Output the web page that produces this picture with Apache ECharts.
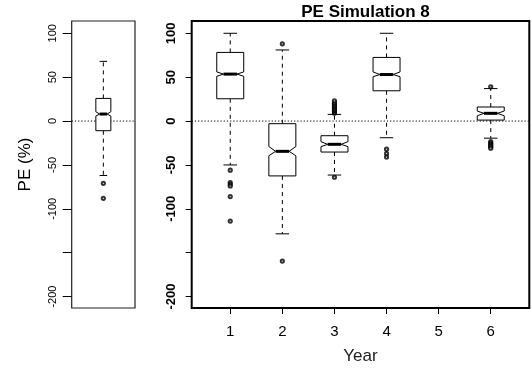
<!DOCTYPE html>
<html>
<head>
<meta charset="utf-8">
<script src="https://cdn.jsdelivr.net/npm/echarts@6/dist/echarts.min.js"></script>
<style>
  html, body { margin: 0; padding: 0; background: #fff; }
  #chart { width: 532px; height: 376px; }
</style>
</head>
<body>
<div id="chart"></div>
<script>
// Pooled prediction errors (left panel)
const allStats = { lowW: -62, q1: -11, notchLo: 5.7, med: 8, notchHi: 10.6, q3: 25.8, upW: 68 };
const allOutliers = [-71, -88];

// Per-year prediction errors (right panel)
const years = [1, 2, 3, 4, 5, 6];
const lowerWhisker = [-50, -128.5, -61.5, -19, null, -19.5];
const lowerQuartile = [25.4, -62.5, -35.3, 34.5, null, 1.1];
const notchLow = [51, -39.5, -29.2, 50.5, null, 6];
const medians = [53.5, -34.5, -26.5, 53, null, 8.8];
const notchHigh = [56, -29, -23.5, 56, null, 11.4];
const upperQuartile = [78.2, -3, -16.7, 72.5, null, 16];
const upperWhisker = [100, 81, 7.6, 100, null, 37];
const outliers = [
  [-56, -70, -72, -74, -86, -114],
  [88, -159.5],
  [9, 10.5, 12, 13.5, 15, 16.5, 18, 19.5, 21, 23, -64],
  [-32, -37, -41],
  [],
  [39, -23.5, -25, -26.5, -28, -29.5, -31]
];

// Axis settings
const yRange = [-213, 114];
const yTicks = [-200, -150, -100, -50, 0, 50, 100];
const yLabels = [-200, -100, -50, 0, 50, 100];
const xRangeRight = [0.26, 6.74];
const xRangeLeft = [0.46, 1.54];
const refLevel = 0;

const FONT = 'Liberation Sans, Arial, Helvetica, sans-serif';

function boxRenderer(boxWidth) {
  return function (params, api) {
    const x = api.value(0);
    const v = [1, 2, 3, 4, 5, 6, 7].map(i => api.value(i));
    const [lowW, q1, nLo, med, nHi, q3, upW] = v;
    const cx = api.coord([x, med])[0];
    const hw = api.size([boxWidth, 0])[0] / 2;
    const y = val => api.coord([x, val])[1];
    const L = cx - hw, R = cx + hw;
    const iL = cx - hw / 2, iR = cx + hw / 2;
    const dashed = { stroke: '#000', lineWidth: 1, lineDash: [4, 4] };
    const solid = { stroke: '#000', lineWidth: 1 };
    return {
      type: 'group',
      children: [
        { type: 'line', shape: { x1: cx, y1: y(q3), x2: cx, y2: y(upW) }, style: dashed },
        { type: 'line', shape: { x1: cx, y1: y(q1), x2: cx, y2: y(lowW) }, style: dashed },
        { type: 'line', shape: { x1: cx - hw / 2, y1: y(upW), x2: cx + hw / 2, y2: y(upW) }, style: solid },
        { type: 'line', shape: { x1: cx - hw / 2, y1: y(lowW), x2: cx + hw / 2, y2: y(lowW) }, style: solid },
        {
          type: 'polygon',
          shape: {
            points: [
              [L, y(q1)], [L, y(nLo)], [iL, y(med)], [L, y(nHi)], [L, y(q3)],
              [R, y(q3)], [R, y(nHi)], [iR, y(med)], [R, y(nLo)], [R, y(q1)]
            ]
          },
          style: { stroke: '#000', lineWidth: 1, fill: '#fff' }
        },
        { type: 'line', shape: { x1: iL, y1: y(med), x2: iR, y2: y(med) }, style: { stroke: '#000', lineWidth: 3, lineCap: 'butt' } }
      ]
    };
  };
}

const rightBoxes = [];
const rightOutliers = [];
years.forEach((yr, i) => {
  if (medians[i] !== null) {
    rightBoxes.push([yr, lowerWhisker[i], lowerQuartile[i], notchLow[i], medians[i], notchHigh[i], upperQuartile[i], upperWhisker[i]]);
  }
  outliers[i].forEach(o => rightOutliers.push([yr, o]));
});
const leftBoxes = [[1, allStats.lowW, allStats.q1, allStats.notchLo, allStats.med, allStats.notchHi, allStats.q3, allStats.upW]];
const leftOutliers = allOutliers.map(o => [1, o]);

// Dotted reference line at zero, spanning each panel
function refLine(xAxisIndex, range) {
  return {
    type: 'line', xAxisIndex, yAxisIndex: xAxisIndex,
    data: [[range[0], refLevel], [range[1], refLevel]],
    symbol: 'none', silent: true, z: 1,
    lineStyle: { color: '#000', width: 1, type: [1.2, 2] }
  };
}

const chart = echarts.init(document.getElementById('chart'), null, { renderer: 'canvas' });
chart.setOption({
  animation: false,
  backgroundColor: '#fff',
  title: {
    text: 'PE Simulation 8',
    left: 360.5,
    textAlign: 'center',
    top: -1,
    textStyle: { fontFamily: FONT, fontSize: 17, fontWeight: 'bold', color: '#000' }
  },
  grid: [
    { left: 71.7, top: 21, width: 63.3, height: 287, show: true, borderColor: '#222', borderWidth: 1.2, backgroundColor: 'transparent' },
    { left: 191.7, top: 21, width: 337.6, height: 287, show: true, borderColor: '#000', borderWidth: 2, backgroundColor: 'transparent' }
  ],
  xAxis: [
    {
      gridIndex: 0, type: 'value', min: xRangeLeft[0], max: xRangeLeft[1], position: 'bottom',
      axisLine: { show: false, onZero: false }, axisTick: { show: false }, axisLabel: { show: false }, splitLine: { show: false }
    },
    {
      gridIndex: 1, type: 'value', min: xRangeRight[0], max: xRangeRight[1], position: 'bottom',
      axisLine: { show: false, onZero: false },
      axisTick: { show: true, customValues: years, length: 6, lineStyle: { color: '#000', width: 1 } },
      axisLabel: { show: true, customValues: years, margin: 16, fontFamily: FONT, fontSize: 15, color: '#000' },
      minorTick: { show: false },
      splitLine: { show: false },
      name: 'Year', nameLocation: 'middle', nameGap: 40,
      nameTextStyle: { fontFamily: FONT, fontSize: 17, color: '#222' }
    }
  ],
  yAxis: [
    {
      gridIndex: 0, type: 'value', min: yRange[0], max: yRange[1], position: 'left',
      axisLine: { show: false, onZero: false },
      axisTick: { show: true, customValues: yTicks, length: 9, lineStyle: { color: '#000', width: 1 } },
      axisLabel: { show: true, customValues: yLabels, rotate: 90, margin: 13, fontFamily: FONT, fontSize: 11, color: '#000' },
      splitLine: { show: false },
      name: 'PE (%)', nameLocation: 'middle', nameRotate: 90, nameGap: 38,
      nameTextStyle: { fontFamily: FONT, fontSize: 17, color: '#000' }
    },
    {
      gridIndex: 1, type: 'value', min: yRange[0], max: yRange[1], position: 'left',
      axisLine: { show: false, onZero: false },
      axisTick: { show: true, customValues: yTicks, length: 6, lineStyle: { color: '#000', width: 1 } },
      axisLabel: { show: true, customValues: yLabels, rotate: 90, margin: 14, fontFamily: FONT, fontSize: 13, fontWeight: 'bold', color: '#000' },
      splitLine: { show: false }
    }
  ],
  series: [
    refLine(0, xRangeLeft),
    refLine(1, xRangeRight),
    {
      type: 'custom', xAxisIndex: 0, yAxisIndex: 0,
      renderItem: boxRenderer(0.256),
      encode: { x: 0, y: [1, 2, 3, 4, 5, 6, 7] },
      data: leftBoxes, z: 3
    },
    {
      type: 'scatter', xAxisIndex: 0, yAxisIndex: 0,
      symbol: 'emptyCircle', symbolSize: 3.2,
      itemStyle: { color: '#000', borderColor: '#000', borderWidth: 1 },
      data: leftOutliers, z: 4
    },
    {
      type: 'custom', xAxisIndex: 1, yAxisIndex: 1,
      renderItem: boxRenderer(0.518),
      encode: { x: 0, y: [1, 2, 3, 4, 5, 6, 7] },
      data: rightBoxes, z: 3
    },
    {
      type: 'scatter', xAxisIndex: 1, yAxisIndex: 1,
      symbol: 'emptyCircle', symbolSize: 3.2,
      itemStyle: { color: '#000', borderColor: '#000', borderWidth: 1 },
      data: rightOutliers, z: 4
    }
  ]
});
</script>
</body>
</html>
